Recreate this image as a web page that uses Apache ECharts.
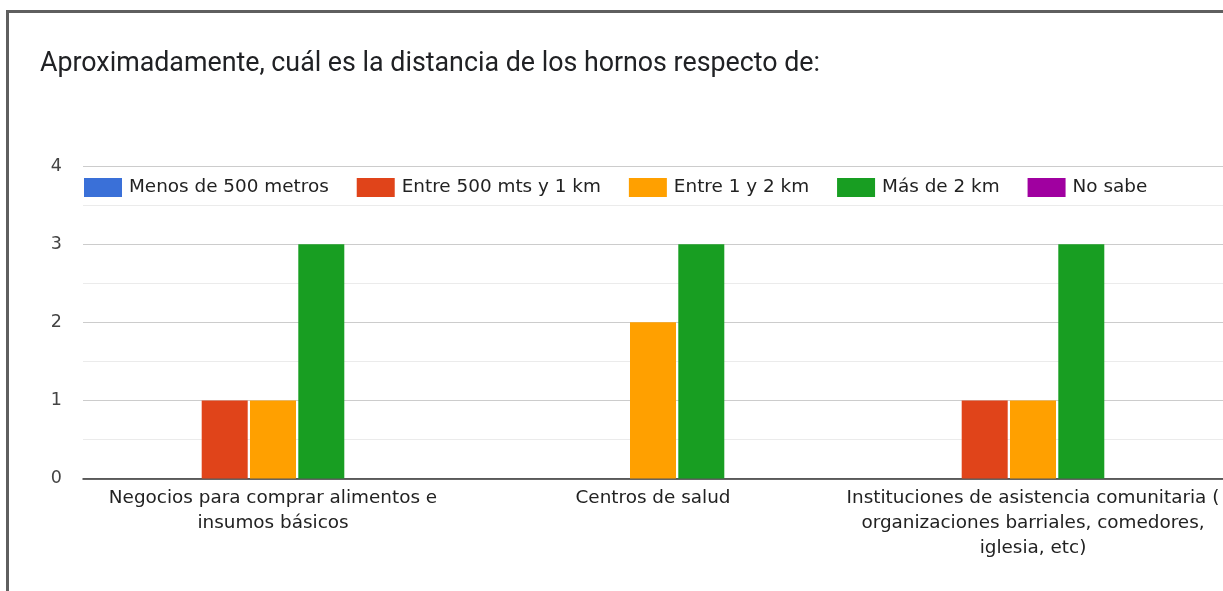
<!DOCTYPE html>
<html>
<head>
<meta charset="utf-8">
<script src="https://cdn.jsdelivr.net/npm/echarts@6/dist/echarts.min.js"></script>
<style>
  html, body { margin: 0; padding: 0; background: #fff; }
  #chart { width: 1223px; height: 591px; }
</style>
</head>
<body>
<div id="chart"></div>
<script>
// categorías (eje x)
const categories = [
  "Negocios para comprar alimentos e\ninsumos básicos",
  "Centros de salud",
  "Instituciones de asistencia comunitaria (\norganizaciones barriales, comedores,\niglesia, etc)"
];
// nombres de las series
const seriesNames = ["Menos de 500 metros", "Entre 500 mts y 1 km", "Entre 1 y 2 km", "Más de 2 km", "No sabe"];
// valores por serie
const menos500 = [0, 0, 0];
const entre500y1 = [1, 0, 1];
const entre1y2 = [1, 2, 1];
const masDe2 = [3, 3, 3];
const noSabe = [0, 0, 0];
const colors = ["#3a70d8", "#e0441a", "#ffa000", "#189e22", "#a000a0"];

const values = [menos500, entre500y1, entre1y2, masDe2, noSabe];

const chart = echarts.init(document.getElementById("chart"));
const option = {
  animation: false,
  color: colors,
  title: {
    text: "Aproximadamente, cuál es la distancia de los hornos respecto de:",
    left: 35,
    top: 46,
    textStyle: { fontFamily: "Roboto", fontSize: 26.8, fontWeight: "normal", color: "#202124" }
  },
  graphic: [
    {
      type: "rect",
      shape: { x: 7.5, y: 11.5, width: 1400, height: 800 },
      style: { fill: "none", stroke: "#5f5f5f", lineWidth: 3 }
    }
  ],
  legend: {
    left: 84,
    top: 178,
    padding: 0,
    icon: "rect",
    itemWidth: 38,
    itemHeight: 19,
    itemGap: 28,
    textStyle: { fontFamily: "DejaVu Sans", fontSize: 18.4, color: "#222", padding: [0, 0, 0, 2] },
    data: seriesNames
  },
  grid: { left: 83, right: 0, top: 166, bottom: 112.5 },
  xAxis: {
    type: "category",
    data: categories,
    axisTick: { show: false },
    axisLine: { lineStyle: { color: "#333", width: 1.5 } },
    axisLabel: {
      interval: 0,
      margin: 7,
      fontFamily: "DejaVu Sans",
      fontSize: 18.4,
      color: "#222",
      lineHeight: 25
    }
  },
  yAxis: {
    type: "value",
    min: 0,
    max: 4,
    interval: 1,
    axisLine: { show: false },
    axisTick: { show: false },
    axisLabel: { margin: 21, fontFamily: "DejaVu Sans", fontSize: 17.5, color: "#444" },
    splitLine: { lineStyle: { color: "#cccccc", width: 1 } },
    minorTick: { show: false, splitNumber: 2 },
    minorSplitLine: { show: true, lineStyle: { color: "#ebebeb", width: 1 } }
  },
  series: seriesNames.map((name, i) => ({
    name: name,
    type: "bar",
    data: values[i],
    barWidth: 46,
    barGap: "5%",
    itemStyle: { color: colors[i] }
  }))
};
chart.setOption(option);
</script>
</body>
</html>
